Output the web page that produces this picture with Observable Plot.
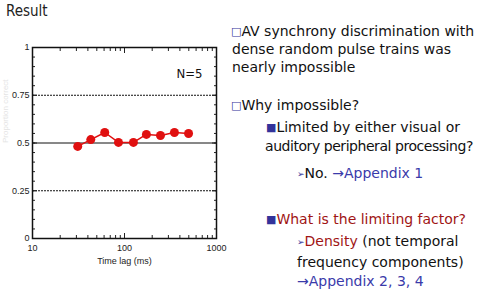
<!DOCTYPE html>
<html><head><meta charset="utf-8">
<script src="https://cdn.jsdelivr.net/npm/d3@7"></script>
<script src="https://cdn.jsdelivr.net/npm/@observablehq/plot@0.6"></script>
<style>
body{margin:0;width:477px;height:289px;overflow:hidden;position:relative;background:#fff;font-family:"DejaVu Sans",sans-serif;}
#title{position:absolute;left:6px;top:2px;font-size:15px;color:#222;font-family:"DejaVu Sans Condensed","DejaVu Sans",sans-serif;}
#chart{position:absolute;left:0;top:20px;}
.t{position:absolute;font-size:14px;line-height:18px;height:18px;white-space:nowrap;color:#111;}
.r{color:#a01515}
.bl{color:#3a3aaa}
.sq{font-size:11px;color:#33339a;vertical-align:1px}
.ar{font-size:9px;color:#33339a;vertical-align:1px}
</style></head>
<body>
<div id="title">Result</div>
<div id="chart"></div>
<div class="t" style="left:231px;top:22px"><span class="sq">□</span>AV synchrony discrimination with</div>
<div class="t" style="left:232px;top:40px">dense random pulse trains was</div>
<div class="t" style="left:232px;top:58px">nearly impossible</div>
<div class="t" style="left:231px;top:96px"><span class="sq">□</span>Why impossible?</div>
<div class="t" style="left:266px;top:118px"><span class="sq">■</span>Limited by either visual or</div>
<div class="t" style="left:265px;top:137px;letter-spacing:-0.45px">auditory peripheral processing?</div>
<div class="t" style="left:297px;top:164px"><span class="ar">➢</span>No. <span class="bl">→Appendix 1</span></div>
<div class="t" style="left:266px;top:210px"><span class="sq">■</span><span class="r">What is the limiting factor?</span></div>
<div class="t" style="left:297px;top:232px"><span class="ar">➢</span><span class="r">Density</span> (not temporal</div>
<div class="t" style="left:297px;top:253px">frequency components)</div>
<div class="t" style="left:297px;top:272px"><span class="bl">→Appendix 2, 3, 4</span></div>
<script>
const timeLag = [31, 43, 61, 86, 125, 173, 246, 349, 497];
const proportion = [0.482, 0.518, 0.555, 0.503, 0.503, 0.545, 0.539, 0.555, 0.55];
const yTicks = [0, 0.25, 0.5, 0.75, 1];
const yMinorTicks = d3.range(0, 1.0001, 0.05);
const xTicks = [10, 100, 1000];
const xMinorTicks = [20,30,40,50,60,70,80,90,200,300,400,500,600,700,800,900];
const gridDotted = [0.25, 0.75];
const gridSolid = [0.5];
const yLabel = ["Proportion correct"];
const data = timeLag.map((t, i) => ({t, p: proportion[i]}));

const blank = () => "";
const plot = Plot.plot({
  width: 232,
  height: 262,
  marginLeft: 32,
  marginRight: 16,
  marginTop: 27,
  marginBottom: 44,
  style: {fontFamily: "'Liberation Sans', Arial, sans-serif", fontSize: "9px", color: "#222", background: "transparent", overflow: "visible"},
  x: {type: "log", domain: [10, 1000]},
  y: {domain: [0, 1]},
  marks: [
    Plot.ruleY(gridDotted, {stroke: "#111", strokeWidth: 1, strokeDasharray: "2,1"}),
    Plot.ruleY(gridSolid, {stroke: "#111", strokeWidth: 1}),
    Plot.axisY({ticks: yTicks, tickSize: -5, tickPadding: 8, tickFormat: d => String(d), label: null}),
    Plot.axisY({ticks: yMinorTicks, tickSize: -3, tickFormat: blank, label: null}),
    Plot.axisY({anchor: "right", ticks: yTicks, tickSize: -5, tickFormat: blank, label: null}),
    Plot.axisY({anchor: "right", ticks: yMinorTicks, tickSize: -3, tickFormat: blank, label: null}),
    Plot.axisX({ticks: xTicks, tickSize: -5, tickPadding: 11, tickFormat: d => String(d), label: "Time lag (ms)", labelAnchor: "center", labelOffset: 25, labelArrow: "none"}),
    Plot.axisX({ticks: xMinorTicks, tickSize: -3, tickFormat: blank, label: null}),
    Plot.axisX({anchor: "top", ticks: xTicks, tickSize: -5, tickFormat: blank, label: null}),
    Plot.axisX({anchor: "top", ticks: xMinorTicks, tickSize: -3, tickFormat: blank, label: null}),
    Plot.text(yLabel, {frameAnchor: "left", rotate: -90, dx: -27, fill: "#e4e4e4", fontSize: 8}),
    Plot.frame({stroke: "#111", strokeWidth: 1.5}),
    Plot.line(data, {x: "t", y: "p", stroke: "#e01010", strokeWidth: 1.5}),
    Plot.dot(data, {x: "t", y: "p", r: 4.5, fill: "#e01010", stroke: "none"}),
    Plot.text(["N=5"], {frameAnchor: "top-right", dx: -14, dy: 21, fontSize: 13, fontFamily: "'DejaVu Sans Condensed','DejaVu Sans',sans-serif", fill: "#111"})
  ]
});
document.getElementById("chart").appendChild(plot);
</script>
</body></html>
